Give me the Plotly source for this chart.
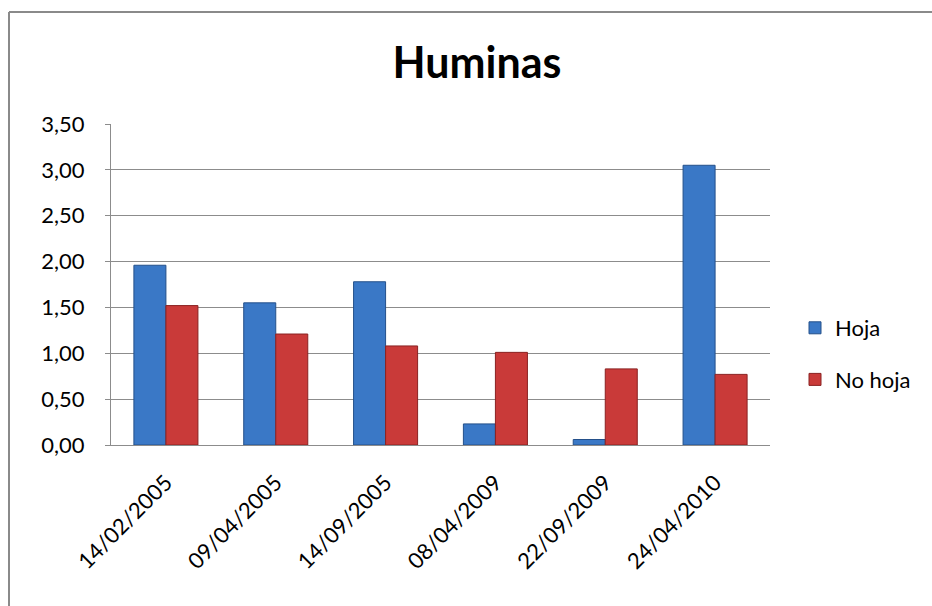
import plotly.graph_objects as go

categories = ["14/02/2005", "09/04/2005", "14/09/2005", "08/04/2009", "22/09/2009", "24/04/2010"]
hoja = [1.96, 1.55, 1.78, 0.23, 0.06, 3.05]
no_hoja = [1.52, 1.21, 1.08, 1.01, 0.83, 0.77]
y_ticks = [0, 0.5, 1.0, 1.5, 2.0, 2.5, 3.0, 3.5]

W, H = 932, 606
L, R, T, B = 111, 770, 124, 445
FONT = "Lato, Calibri, sans-serif"

def px_x(p):
    return (p - L) / (R - L)

def px_y(p):
    return (B - p) / (B - T)

fig = go.Figure()
fig.add_trace(go.Bar(x=categories, y=hoja, name="Hoja", legendgroup="a",
                     marker=dict(color="#3A78C6", line=dict(color="#24508A", width=1))))
fig.add_trace(go.Bar(x=categories, y=no_hoja, name="No hoja", legendgroup="b",
                     marker=dict(color="#C93A39", line=dict(color="#8A2222", width=1))))

fig.update_layout(
    width=W, height=H,
    margin=dict(l=L, r=W - R, t=T, b=H - B),
    paper_bgcolor="white", plot_bgcolor="white",
    separators=",.",
    barmode="group", bargap=0.417, bargroupgap=0,
    font=dict(family=FONT, size=22, color="#000000"),
    title=dict(text="<b>Huminas</b>", x=477 / W, xref="container", xanchor="center",
               y=1 - 63 / H, yref="container", yanchor="middle",
               font=dict(size=43, family=FONT, color="#000000")),
    legend=dict(x=px_x(795), y=px_y(307), xanchor="left", yanchor="top",
                font=dict(size=22), tracegroupgap=20, traceorder="grouped",
                itemwidth=30, bgcolor="rgba(0,0,0,0)"),
    showlegend=True,
)
fig.update_yaxes(range=[0, 3.5], tickvals=y_ticks, tickformat=".2f",
                 showgrid=True, gridcolor="#8C8C8C", gridwidth=1,
                 showline=True, linecolor="#8C8C8C", linewidth=1,
                 ticks="outside", ticklen=5, tickcolor="#8C8C8C",
                 ticklabelstandoff=16,
                 tickfont=dict(size=22), zeroline=False)
fig.update_xaxes(tickangle=-45, showline=True, linecolor="#8C8C8C", linewidth=1,
                 showgrid=False, tickfont=dict(size=22), ticks="",
                 ticklabelstandoff=15)

# outer chart frame: left and top edges visible, right/bottom run off the page
fig.add_shape(type="line", xref="paper", yref="paper",
              x0=px_x(9), x1=px_x(9), y0=px_y(640), y1=px_y(12),
              line=dict(color="#8A8A8A", width=2), layer="below")
fig.add_shape(type="line", xref="paper", yref="paper",
              x0=px_x(9), x1=px_x(960), y0=px_y(12), y1=px_y(12),
              line=dict(color="#8A8A8A", width=2), layer="below")

fig.write_html("out.html", config={"displayModeBar": False},
               post_script="document.body.style.margin='0';document.body.style.overflow='hidden';document.documentElement.style.overflow='hidden';")
